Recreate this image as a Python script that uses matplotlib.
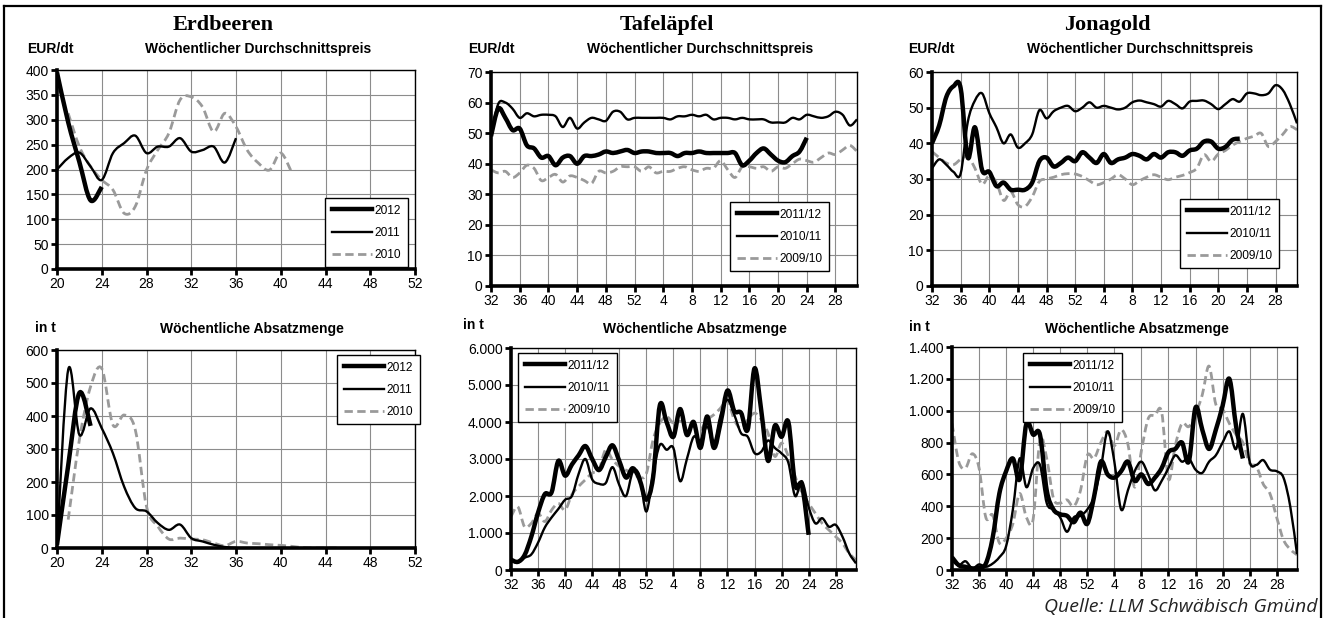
import matplotlib
matplotlib.use('Agg')
import matplotlib.pyplot as plt
from matplotlib.lines import Line2D
from matplotlib.patches import PathPatch
from matplotlib.path import Path
from matplotlib.ticker import FuncFormatter
import numpy as np

plt.rcParams['font.family'] = ['Liberation Sans', 'DejaVu Sans']

# ---- data -------------------------------------------------------------
# Erdbeeren: calendar weeks
erd_weeks_2012 = [20, 21, 22, 23, 24]
erd_price_2012 = [395, 295, 215, 138, 165]
erd_weeks_2011 = list(range(20, 37))
erd_price_2011 = [200, 223, 234, 206, 179, 233, 253, 268, 233, 246, 246, 263, 236, 239, 246, 214, 263]
erd_weeks_2010 = list(range(21, 42))
erd_price_2010 = [313, 246, 206, 179, 159, 112, 126, 199, 239, 273, 340, 346, 326, 276, 313, 286, 239,
                  213, 199, 233, 193]

erd_vweeks_2012 = [20, 21, 22, 23]
erd_vol_2012 = [10, 250, 470, 370]
erd_vweeks_2011 = list(range(20, 37))
erd_vol_2011 = [10, 540, 343, 423, 363, 287, 186, 121, 111, 76, 55, 71, 30, 20, 10, 3, 0]
erd_vweeks_2010 = list(range(21, 46))
erd_vol_2010 = [86, 328, 489, 544, 373, 403, 358, 126, 66, 27, 30, 27, 25, 15, 7, 20, 15, 13, 10, 8,
                5, 1, 0, 0, 0]

# Äpfel: season from week 32 to week 31 of next year (one value per week)
apple_tick_labels = ['32', '36', '40', '44', '48', '52', '4', '8', '12', '16', '20', '24', '28']

tafel_price_1112 = [49, 58, 55, 51, 51.5, 46, 45, 42, 42.5, 39.5,
                    42, 42.5, 40, 42.5, 42.5, 43, 44, 43.5, 44, 44.5,
                    43.5, 44, 44, 43.5, 43.5, 43.5, 42.5, 43.5, 43.5, 44,
                    43.5, 43.5, 43.5, 43.5, 43.5, 39.5, 41, 43.5, 45, 43,
                    41, 40.5, 42.5, 44, 48.5]
tafel_price_1011 = [49, 59.5, 60, 58, 55, 56.5, 55.5, 56, 56, 55.5,
                    52, 55, 51.5, 53.5, 55, 54.5, 54, 57, 57, 54.5,
                    55, 55, 55, 55, 55, 54.5, 55.5, 55.5, 56, 55.5,
                    56, 54.5, 55, 55, 54.5, 55, 54.5, 54.5, 54.5, 53.5,
                    53.5, 53.5, 55, 54.5, 56, 55.5, 55, 55.5, 57, 56,
                    52.5, 54.5]
tafel_price_0910 = [38, 37, 37.5, 35.5, 37, 39.5, 38.5, 34.5, 35.5, 36.5,
                    34, 36, 35.5, 34.5, 33.5, 37.5, 37, 37.5, 39, 39,
                    39, 37.5, 39, 37, 37.5, 37.5, 38.5, 39, 38, 37.5,
                    38.5, 38.5, 41, 38, 35.5, 39, 39, 38.5, 39, 37.5,
                    39, 38.5, 40, 41.5, 41, 40.5, 42, 43.5, 43, 44.5,
                    46, 44]

jona_price_1112 = [40, 45, 53, 56, 55.5, 36, 44.5, 32.5, 32, 28,
                   29, 27, 27, 27, 29, 35, 36, 33.5, 34.5, 36,
                   35, 37.5, 36, 34.5, 37, 34.5, 35.5, 36, 37, 36.5,
                   35.5, 37, 36, 37.5, 37.5, 36.5, 38, 38.5, 40.5, 40.5,
                   38.5, 39, 41, 41.3]
jona_price_1011 = [33, 35.5, 34, 32, 31.5, 46, 52, 54, 48.5, 44.5,
                   40, 42.5, 38.8, 40, 42.5, 49.3, 47, 49, 50, 50.5,
                   49, 50, 51.5, 50, 50.5, 50, 49.5, 50, 51.5, 52,
                   51.5, 51, 50.3, 51.9, 51, 49.8, 51.7, 51.9, 52, 51,
                   49.6, 51, 52.4, 51.7, 54, 54, 53.5, 54, 56.3, 55,
                   51, 45.6]
jona_price_0910 = [37.7, 36, 34.5, 34, 35.5, 36.3, 33, 28.5, 31, 29,
                   24, 26.5, 22.8, 22.3, 25, 29.3, 30, 30.5, 31.2, 31.5,
                   31.4, 30.7, 29.5, 28.4, 29, 30, 31.2, 30, 28.4, 29.5,
                   30.5, 31.2, 30.5, 29.8, 30.5, 31, 31.8, 33, 36.8, 34.9,
                   37, 38, 39.5, 40.5, 41.4, 42, 42.8, 39.1, 40.5, 42.5,
                   44.7, 43.8]

tafel_vol_1112 = [280, 220, 400, 900, 1550, 2050, 2100, 2950, 2550, 2850,
                  3100, 3350, 3000, 2700, 3050, 3370, 2950, 2500, 2750, 2450,
                  1900, 2500, 4450, 4000, 3600, 4350, 3650, 4000, 3300, 4150,
                  3300, 4000, 4850, 4300, 4250, 3800, 5450, 4300, 2950, 3900,
                  3600, 4000, 2300, 2300, 950]
tafel_vol_1011 = [250, 200, 330, 420, 740, 1150, 1420, 1650, 1900, 2000,
                  2600, 3000, 2450, 2330, 2350, 2780, 2300, 2000, 2650, 2550,
                  1580, 2600, 3380, 3250, 3300, 2400, 3000, 3600, 3500, 3880,
                  3430, 4200, 4600, 4200, 3700, 3600, 3160, 3200, 3500, 3300,
                  3150, 2900, 2000, 2400, 1700, 1260, 1400, 1170, 1220, 900,
                  450, 180]
tafel_vol_0910 = [1440, 1710, 1170, 1260, 1530, 1310, 1620, 1800, 1620, 2040,
                  2260, 2440, 2620, 2710, 3250, 2980, 2800, 2700, 2620, 2500,
                  2600, 3520, 3970, 4150, 3970, 4020, 3970, 3880, 3790, 4060,
                  4200, 4380, 4600, 4060, 3830, 4060, 4240, 4060, 3700, 3070,
                  3430, 3070, 2530, 2080, 1800, 1530, 1260, 1080, 900, 720,
                  450, 270]

jona_vol_1112 = [80, 30, 20, 10, 15, 40, 200, 480, 620, 700,
                 570, 920, 850, 850, 500, 380, 350, 340, 300, 360,
                 290, 460, 680, 600, 580, 620, 680, 560, 600, 540,
                 580, 640, 740, 760, 800, 680, 1020, 880, 760, 880,
                 1030, 1200, 900, 700]
jona_vol_1011 = [60, 30, 55, 10, 35, 20, 40, 80, 150, 380,
                 700, 520, 640, 660, 420, 380, 330, 240, 330, 340,
                 380, 460, 640, 870, 680, 380, 500, 620, 680, 600,
                 500, 560, 640, 720, 680, 700, 630, 610, 680, 720,
                 800, 870, 760, 980, 680, 660, 690, 630, 620, 580,
                 400, 100]
jona_vol_0910 = [920, 680, 640, 730, 640, 330, 345, 170, 200, 290,
                 480, 330, 320, 820, 700, 450, 420, 440, 400, 500,
                 720, 700, 800, 870, 780, 880, 790, 520, 750, 950,
                 970, 990, 570, 780, 920, 900, 980, 1100, 1280, 1040,
                 1010, 920, 850, 800, 670, 650, 540, 480, 330, 190,
                 130, 95]

# ---- figure ----------------------------------------------------------
W, H = 1326, 618
fig = plt.figure(figsize=(W / 100, H / 100), dpi=100)


def px_axes(l, t, r, b):
    return fig.add_axes([l / W, 1 - b / H, (r - l) / W, (b - t) / H])


def thousands(v, pos):
    return '{:,}'.format(int(v)).replace(',', '.')


# line styles: (colour, width, dash pattern, zorder)
THICK = ('black', 3.2, None, 4)
THIN = ('black', 1.7, None, 3)
GRAY = ('#9a9a9a', 2.0, (3.0, 1.6), 2)


def smooth(ax, x, y, st):
    # smoothed curve through the weekly points (like the spreadsheet "smoothed line")
    p = np.column_stack([x, y]).astype(float)
    n = len(p)
    verts, codes = [p[0]], [Path.MOVETO]
    for i in range(n - 1):
        p0 = p[i - 1] if i > 0 else p[i]
        p3 = p[i + 2] if i + 2 < n else p[i + 1]
        verts += [p[i] + (p[i + 1] - p0) / 6, p[i + 1] - (p3 - p[i]) / 6, p[i + 1]]
        codes += [Path.CURVE4] * 3
    color, lw, dash, z = st
    ls = (0, dash) if dash else '-'
    ax.add_patch(PathPatch(Path(verts, codes), fill=False, edgecolor=color, lw=lw,
                           linestyle=ls, joinstyle='round', capstyle='butt', zorder=z))
    return Line2D([], [], color=color, lw=lw, linestyle=ls)


def style(ax, xlim, xticks, ylim, ystep, xlabels=None, fmt=None):
    ax.set_xlim(*xlim)
    ax.set_ylim(*ylim)
    ax.set_xticks(xticks)
    if xlabels is not None:
        ax.set_xticklabels(xlabels)
    ax.set_yticks(np.arange(ylim[0], ylim[1] + ystep / 2, ystep))
    if fmt:
        ax.yaxis.set_major_formatter(FuncFormatter(fmt))
    ax.grid(True, color='#8c8c8c', lw=0.8)
    ax.set_axisbelow(True)
    for s in ('left', 'bottom'):
        ax.spines[s].set_linewidth(2.6)
    for s in ('top', 'right'):
        ax.spines[s].set_linewidth(1.0)
    ax.tick_params(direction='out', length=4, width=2, labelsize=10, pad=2, colors='black')


def legend(ax, handles, labels, x, y):
    leg = ax.legend(handles, labels, loc='upper left', bbox_to_anchor=(x / W, 1 - y / H),
                    bbox_transform=fig.transFigure, borderaxespad=0, fontsize=8.6,
                    handlelength=3.4, handletextpad=0.2, labelspacing=0.85, borderpad=0.55,
                    fancybox=False, framealpha=1, edgecolor='black')
    leg.get_frame().set_linewidth(1.0)
    leg.set_zorder(10)


def panel(ax, series, labels, lx, ly):
    handles = [None] * 3
    for i in (2, 1, 0):
        x, y, st = series[i]
        handles[i] = smooth(ax, x, y, st)
    legend(ax, handles, labels, lx, ly)


def idx(v):
    return np.arange(len(v))


ERD = ['2012', '2011', '2010']
APF = ['2011/12', '2010/11', '2009/10']

# Erdbeeren Preis
ax1 = px_axes(57, 70, 415, 269)
panel(ax1, [(erd_weeks_2012, erd_price_2012, THICK), (erd_weeks_2011, erd_price_2011, THIN),
            (erd_weeks_2010, erd_price_2010, GRAY)], ERD, 325, 198)
style(ax1, (20, 52), range(20, 53, 4), (0, 400), 50)

# Tafeläpfel Preis
ax2 = px_axes(491, 72, 857, 286)
panel(ax2, [(idx(tafel_price_1112), tafel_price_1112, THICK),
            (idx(tafel_price_1011), tafel_price_1011, THIN),
            (idx(tafel_price_0910), tafel_price_0910, GRAY)], APF, 730, 202)
style(ax2, (0, 51), range(0, 49, 4), (0, 70), 10, apple_tick_labels)

# Jonagold Preis
ax3 = px_axes(932, 72, 1297, 286)
panel(ax3, [(idx(jona_price_1112), jona_price_1112, THICK),
            (idx(jona_price_1011), jona_price_1011, THIN),
            (idx(jona_price_0910), jona_price_0910, GRAY)], APF, 1180, 199)
style(ax3, (0, 51), range(0, 49, 4), (0, 60), 10, apple_tick_labels)

# Erdbeeren Menge
ax4 = px_axes(57, 350, 415, 548)
panel(ax4, [(erd_vweeks_2012, erd_vol_2012, THICK), (erd_vweeks_2011, erd_vol_2011, THIN),
            (erd_vweeks_2010, erd_vol_2010, GRAY)], ERD, 337, 355)
style(ax4, (20, 52), range(20, 53, 4), (0, 600), 100)

# Tafeläpfel Menge
ax5 = px_axes(511, 348, 856, 570)
panel(ax5, [(idx(tafel_vol_1112), tafel_vol_1112, THICK),
            (idx(tafel_vol_1011), tafel_vol_1011, THIN),
            (idx(tafel_vol_0910), tafel_vol_0910, GRAY)], APF, 518, 353)
style(ax5, (0, 51), range(0, 49, 4), (0, 6000), 1000, apple_tick_labels, thousands)

# Jonagold Menge
ax6 = px_axes(952, 347, 1297, 570)
panel(ax6, [(idx(jona_vol_1112), jona_vol_1112, THICK),
            (idx(jona_vol_1011), jona_vol_1011, THIN),
            (idx(jona_vol_0910), jona_vol_0910, GRAY)], APF, 1023, 353)
style(ax6, (0, 51), range(0, 49, 4), (0, 1400), 200, apple_tick_labels, thousands)

# ---- texts -----------------------------------------------------------
def ftext(x, y, s, **kw):
    fig.text(x / W, 1 - y / H, s, **kw)


for x, s in [(223, 'Erdbeeren'), (667, 'Tafeläpfel'), (1107, 'Jonagold')]:
    ftext(x, 30, s, ha='center', va='baseline', fontsize=16, fontweight='bold',
          family=['Liberation Serif', 'DejaVu Serif'])

for x0, xc in [(27, 258), (468, 700), (908, 1140)]:
    ftext(x0, 49, 'EUR/dt', ha='left', va='center', fontsize=10, fontweight='bold')
    ftext(xc, 49, 'Wöchentlicher Durchschnittspreis', ha='center', va='center',
          fontsize=10, fontweight='bold')

for x0, y0, xc in [(35, 328, 252), (463, 325, 695), (909, 327, 1137)]:
    ftext(x0, y0, 'in t', ha='left', va='center', fontsize=10, fontweight='bold')
    ftext(xc, 329, 'Wöchentliche Absatzmenge', ha='center', va='center',
          fontsize=10, fontweight='bold')

ftext(1318, 607, 'Quelle: LLM Schwäbisch Gmünd', ha='right', va='center', fontsize=14,
      style='italic', family=['Open Sans', 'DejaVu Sans'], color='#222222')

# outer frame (open at the bottom)
for xs, ys in [([4, 4], [6, 640]), ([4, 1321], [6, 6]), ([1321, 1321], [6, 640])]:
    fig.add_artist(Line2D([x / W for x in xs], [1 - y / H for y in ys], color='black', lw=1.6,
                          transform=fig.transFigure))

fig.savefig('out.png', dpi=100)
